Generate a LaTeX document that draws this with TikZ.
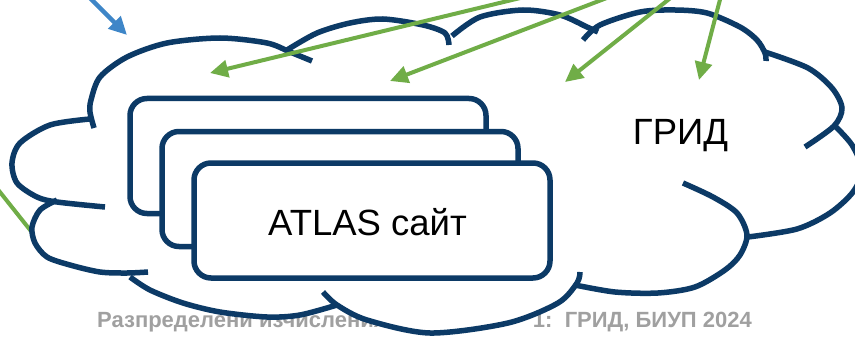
\documentclass[tikz,border=0pt]{standalone}
\usepackage{fontspec}
\setmainfont{Liberation Sans}
\usetikzlibrary{arrows.meta}
\definecolor{navy}{RGB}{12,58,102}
\definecolor{ggreen}{RGB}{112,173,71}
\definecolor{gblue}{RGB}{62,134,200}
\definecolor{footgray}{RGB}{160,160,160}
\begin{document}
\begin{tikzpicture}[x=1pt,y=-1pt,
  lobe/.style={draw=navy, line width=5.5pt},
  sitebox/.style={draw=navy, line width=5.5pt, fill=white, rounded corners=17pt,
    minimum width=356pt, minimum height=115pt, inner sep=0pt},
  bigtext/.style={font=\fontsize{36.5}{40}\selectfont, inner sep=0pt},
  foot/.style={font=\bfseries\fontsize{22}{24}\selectfont, text=footgray, inner sep=0pt},
  garrow/.style={draw=ggreen, line width=4pt, -{Triangle[length=18pt,width=17pt]}},
  barrow/.style={draw=gblue, line width=4.5pt, -{Triangle[length=18pt,width=17pt]}}]
\useasboundingbox (0,0) rectangle (855,337);
\fill[white] (0,0) rectangle (855,337);
% footer (behind the cloud)
\node[foot, anchor=base west] (footL) at (97,327) {Разпределени изчисления};
\node[foot, anchor=base east] (footR) at (752,327) {1:\ \ ГРИД, БИУП 2024};
% green line entering the cloud from the left
\coordinate (gls) at (-12,177);
\coordinate (gle) at (46,250);
\draw[draw=ggreen, line width=4pt] (gls) -- (gle);
% cloud fill
\fill[white] plot[smooth] coordinates {(90,118) (91,100) (100,77) (127,57) (167,43) (220,38) (267,43) (287,50)}
 -- plot[smooth] coordinates {(287,50) (317,33) (350,23) (383,19) (423,25) (450,36)}
 -- plot[smooth] coordinates {(452,36) (480,17) (523,10) (560,15) (587,27) (598,32)}
 -- plot[smooth] coordinates {(598,32) (640,12) (675,10) (707,13) (740,27) (757,40) (765,53)}
 -- plot[smooth] coordinates {(765,52) (808,68) (832,88) (842,108) (834,126)}
 -- plot[smooth] coordinates {(834,125) (852,145) (862,170) (853,192) (830,213) (797,229) (748,237)}
 -- plot[smooth] coordinates {(747,236) (740,255) (725,270) (695,287) (658,293) (615,292) (575,285)}
 -- plot[smooth] coordinates {(577,283) (558,303) (508,323) (430,333) (367,320) (337,305)}
 -- plot[smooth] coordinates {(337,305) (300,315) (267,317) (220,312) (183,303) (150,290) (130,277)}
 -- plot[smooth] coordinates {(130,276) (100,272) (70,265) (47,257) (35,243) (32,227) (40,210) (57,200)}
 -- plot[smooth] coordinates {(57,201) (37,197) (17,183) (12,163) (20,143) (50,125) (90,119)} -- cycle;
% cloud lobes
\draw[lobe] plot[smooth] coordinates {(94,128) (90,112) (91,100) (100,77) (127,57) (167,43) (220,38) (267,43) (290,52) (312,61)};
\draw[lobe] plot[smooth] coordinates {(287,50) (317,33) (350,23) (383,19) (423,25) (445,33) (449,45)};
\draw[lobe] plot[smooth] coordinates {(452,36) (480,17) (523,10) (560,15) (587,27) (598,32)};
\draw[lobe] plot[smooth] coordinates {(583,40) (600,25) (640,12) (675,10) (707,13) (740,27) (757,40) (765,53) (766,61)};
\draw[lobe] plot[smooth] coordinates {(765,52) (808,68) (832,88) (842,108) (834,126) (805,147)};
\draw[lobe] plot[smooth] coordinates {(834,125) (852,145) (862,170) (853,192) (830,213) (797,229) (748,237)};
\draw[lobe] plot[smooth] coordinates {(683,183) (713,197) (737,213) (747,235) (740,255) (725,270) (695,287) (658,293) (615,292) (575,285)};
\draw[lobe] plot[smooth] coordinates {(580,272) (577,283) (558,303) (508,323) (430,333) (367,320) (337,305) (323,292)};
\draw[lobe] plot[smooth] coordinates {(337,305) (300,315) (267,317) (220,312) (183,303) (150,290) (130,277)};
\draw[lobe] plot[smooth] coordinates {(148,272) (127,273) (100,272) (70,265) (47,257) (35,243) (32,227) (40,210) (57,200)};
\draw[lobe] plot[smooth] coordinates {(105,207) (57,202) (37,197) (17,183) (12,163) (20,143) (50,125) (90,119)};
% site boxes
\node[sitebox] (back) at (308,156) {};
\node[sitebox] (mid) at (340,189) {};
\node[sitebox] (front) at (372,220.5) {};
\node[bigtext, anchor=base] (atlas) at (367.5,235) {ATLAS сайт};
\node[bigtext, anchor=base] (grid) at (680.5,145) {ГРИД};
% arrows
\coordinate (b0) at (84,-8);
\coordinate (b1) at (127,35);
\coordinate (g1s) at (545,-8);
\coordinate (g1e) at (210,73);
\coordinate (g2s) at (625,-9);
\coordinate (g2e) at (390,81);
\coordinate (g3s) at (678,-8);
\coordinate (g3e) at (565,82);
\coordinate (g4s) at (722,-8);
\coordinate (g4e) at (699,80);
\draw[barrow] (b0) -- (b1);
\draw[garrow] (g1s) -- (g1e);
\draw[garrow] (g2s) -- (g2e);
\draw[garrow] (g3s) -- (g3e);
\draw[garrow] (g4s) -- (g4e);
\end{tikzpicture}
\end{document}
